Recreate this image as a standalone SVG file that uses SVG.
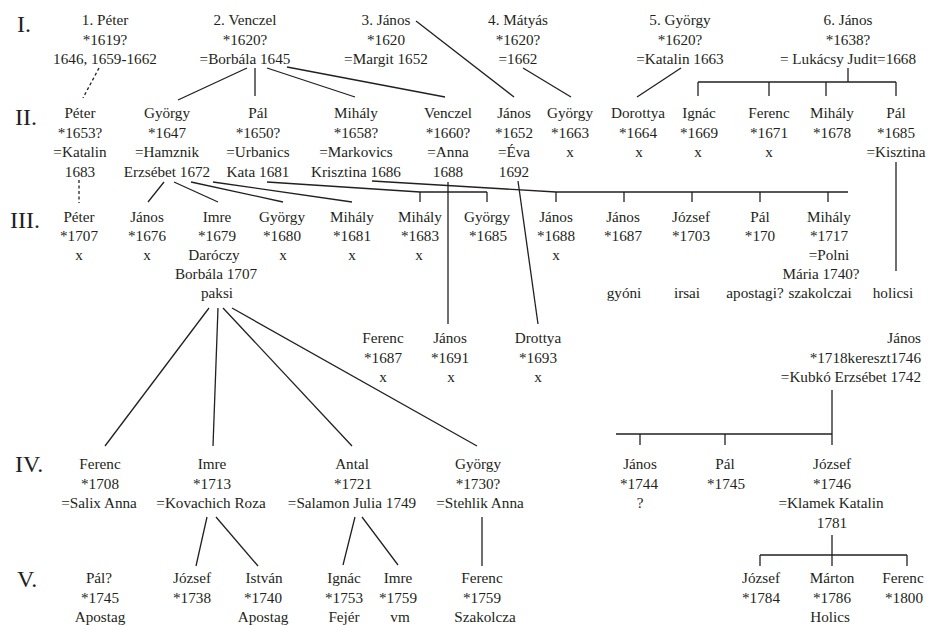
<svg xmlns="http://www.w3.org/2000/svg" width="929" height="625" viewBox="0 0 929 625">
<style>
text{font-family:"Liberation Serif","Times New Roman",serif;font-size:15.2px;fill:#231f20;text-anchor:middle}
text.lbl{font-size:24px;text-anchor:start}
text.r{text-anchor:end}
.c line,.c polyline{stroke:#231f20;stroke-width:1.3;fill:none}
.c .d{stroke-dasharray:3 2.5}
</style>
<rect width="929" height="625" fill="#fff"/>
<g id="labels">
<text class="lbl" x="17" y="32">I.</text>
<text class="lbl" x="15" y="125">II.</text>
<text class="lbl" x="10" y="228">III.</text>
<text class="lbl" x="15" y="472">IV.</text>
<text class="lbl" x="17" y="587">V.</text>
</g>
<g class="c" id="connectors">
<line class="d" x1="99" y1="68" x2="83" y2="98"/>
<line class="d" x1="79" y1="180" x2="79" y2="203"/>
<line x1="247" y1="68" x2="178" y2="100"/>
<line x1="255" y1="68" x2="255" y2="96"/>
<line x1="267" y1="68" x2="355" y2="97"/>
<line x1="287" y1="67" x2="445" y2="97"/>
<line x1="416" y1="21" x2="514" y2="97"/>
<line x1="523" y1="68" x2="571" y2="97"/>
<line x1="681" y1="68" x2="637" y2="97"/>
<line x1="848" y1="68" x2="848" y2="82"/>
<line x1="698" y1="82" x2="896" y2="82"/>
<line x1="698" y1="82" x2="698" y2="96"/>
<line x1="769" y1="82" x2="769" y2="96"/>
<line x1="826" y1="82" x2="826" y2="96"/>
<line x1="896" y1="82" x2="896" y2="96"/>
<line x1="896" y1="162" x2="896" y2="271"/>
<line x1="164" y1="182" x2="148" y2="202"/>
<line x1="174" y1="182" x2="218" y2="202"/>
<line x1="191" y1="182" x2="283" y2="202"/>
<line x1="213" y1="182" x2="352" y2="202"/>
<polyline points="267,182 420,192 487,192"/>
<line x1="420" y1="192" x2="420" y2="202"/>
<line x1="487" y1="192" x2="487" y2="202"/>
<polyline points="372,181 556,192 848,192"/>
<line x1="556" y1="192" x2="556" y2="202"/>
<line x1="624" y1="192" x2="624" y2="202"/>
<line x1="692" y1="192" x2="692" y2="202"/>
<line x1="760" y1="192" x2="760" y2="202"/>
<line x1="828" y1="192" x2="828" y2="202"/>
<line x1="448" y1="182" x2="448" y2="324"/>
<line x1="518" y1="181" x2="538" y2="324"/>
<line x1="209" y1="308" x2="105" y2="446"/>
<line x1="218" y1="308" x2="213" y2="446"/>
<line x1="223" y1="308" x2="352" y2="446"/>
<line x1="232" y1="308" x2="477" y2="446"/>
<line x1="832" y1="390" x2="832" y2="445"/>
<line x1="616" y1="434" x2="832" y2="434"/>
<line x1="640" y1="434" x2="640" y2="445"/>
<line x1="725" y1="434" x2="725" y2="445"/>
<line x1="207" y1="517" x2="196" y2="566"/>
<line x1="216" y1="517" x2="258" y2="566"/>
<line x1="355" y1="517" x2="343" y2="565"/>
<line x1="362" y1="517" x2="398" y2="565"/>
<line x1="482" y1="517" x2="482" y2="566"/>
<line x1="832" y1="535" x2="832" y2="566"/>
<line x1="760" y1="555" x2="907" y2="555"/>
<line x1="760" y1="555" x2="760" y2="566"/>
<line x1="907" y1="555" x2="907" y2="566"/>
</g>
<g id="n1-peter"><text x="105" y="25">1. Péter</text><text x="105" y="44.5">*1619?</text><text x="105" y="64">1646, 1659-1662</text></g>
<g id="n1-venczel"><text x="245" y="25">2. Venczel</text><text x="245" y="44.5">*1620?</text><text x="245" y="64">=Borbála 1645</text></g>
<g id="n1-janos"><text x="386" y="25">3. János</text><text x="386" y="44.5">*1620</text><text x="386" y="64">=Margit 1652</text></g>
<g id="n1-matyas"><text x="518" y="25">4. Mátyás</text><text x="518" y="44.5">*1620?</text><text x="518" y="64">=1662</text></g>
<g id="n1-gyorgy"><text x="680" y="25">5. György</text><text x="680" y="44.5">*1620?</text><text x="680" y="64">=Katalin 1663</text></g>
<g id="n1-janos6"><text x="848" y="25">6. János</text><text x="848" y="44.5">*1638?</text><text x="848" y="64">= Lukácsy Judit=1668</text></g>

<g id="n2-peter"><text x="80" y="118">Péter</text><text x="80" y="137.5">*1653?</text><text x="80" y="157">=Katalin</text><text x="80" y="176.5">1683</text></g>
<g id="n2-gyorgy"><text x="167" y="118">György</text><text x="167" y="137.5">*1647</text><text x="167" y="157">=Hamznik</text><text x="167" y="176.5">Erzsébet 1672</text></g>
<g id="n2-pal"><text x="258" y="118">Pál</text><text x="258" y="137.5">*1650?</text><text x="258" y="157">=Urbanics</text><text x="258" y="176.5">Kata 1681</text></g>
<g id="n2-mihaly"><text x="356" y="118">Mihály</text><text x="356" y="137.5">*1658?</text><text x="356" y="157">=Markovics</text><text x="356" y="176.5">Krisztina 1686</text></g>
<g id="n2-venczel"><text x="448" y="118">Venczel</text><text x="448" y="137.5">*1660?</text><text x="448" y="157">=Anna</text><text x="448" y="176.5">1688</text></g>
<g id="n2-janos"><text x="514" y="118">János</text><text x="514" y="137.5">*1652</text><text x="514" y="157">=Éva</text><text x="514" y="176.5">1692</text></g>
<g id="n2-gyorgy2"><text x="570" y="118">György</text><text x="570" y="137.5">*1663</text><text x="570" y="157">x</text></g>
<g id="n2-dorottya"><text x="638" y="118">Dorottya</text><text x="638" y="137.5">*1664</text><text x="639" y="157">x</text></g>
<g id="n2-ignac"><text x="699" y="118">Ignác</text><text x="699" y="137.5">*1669</text><text x="698" y="157">x</text></g>
<g id="n2-ferenc"><text x="769" y="118">Ferenc</text><text x="769" y="137.5">*1671</text><text x="769" y="157">x</text></g>
<g id="n2-mihaly2"><text x="832" y="118">Mihály</text><text x="832" y="137.5">*1678</text></g>
<g id="n2-pal2"><text x="896" y="118">Pál</text><text x="896" y="137.5">*1685</text><text x="896" y="157">=Kisztina</text></g>

<g id="n3-peter"><text x="79" y="221.5">Péter</text><text x="79" y="241">*1707</text><text x="79" y="260">x</text></g>
<g id="n3-janos"><text x="147" y="221.5">János</text><text x="147" y="241">*1676</text><text x="147" y="260">x</text></g>
<g id="n3-imre"><text x="217" y="221.5">Imre</text><text x="217" y="241">*1679</text><text x="214" y="260">Daróczy</text><text x="216" y="279">Borbála 1707</text><text x="217" y="298">paksi</text></g>
<g id="n3-gyorgy"><text x="282" y="221.5">György</text><text x="282" y="241">*1680</text><text x="283" y="260">x</text></g>
<g id="n3-mihaly"><text x="352" y="221.5">Mihály</text><text x="352" y="241">*1681</text><text x="352" y="260">x</text></g>
<g id="n3-mihaly2"><text x="420" y="221.5">Mihály</text><text x="420" y="241">*1683</text><text x="419" y="260">x</text></g>
<g id="n3-gyorgy2"><text x="487" y="221.5">György</text><text x="488" y="241">*1685</text></g>
<g id="n3-janos2"><text x="556" y="221.5">János</text><text x="556" y="241">*1688</text><text x="556" y="260">x</text></g>
<g id="n3-janos3"><text x="623" y="221.5">János</text><text x="623" y="241">*1687</text><text x="624" y="298">gyóni</text></g>
<g id="n3-jozsef"><text x="691" y="221.5">József</text><text x="691" y="241">*1703</text><text x="687" y="298">irsai</text></g>
<g id="n3-pal"><text x="760" y="221.5">Pál</text><text x="760" y="241">*170</text><text x="755" y="298">apostagi?</text></g>
<g id="n3-mihaly3"><text x="829" y="221.5">Mihály</text><text x="829" y="241">*1717</text><text x="829" y="260">=Polni</text><text x="821" y="279">Mária 1740?</text><text x="820" y="298">szakolczai</text></g>
<g id="n3-holicsi"><text x="893" y="298">holicsi</text></g>

<g id="n3b-ferenc"><text x="383" y="343">Ferenc</text><text x="383" y="362.5">*1687</text><text x="383" y="382">x</text></g>
<g id="n3b-janos"><text x="450" y="343">János</text><text x="450" y="362.5">*1691</text><text x="451" y="382">x</text></g>
<g id="n3b-drottya"><text x="538" y="343">Drottya</text><text x="538" y="362.5">*1693</text><text x="538" y="382">x</text></g>
<g id="n3b-janos1718"><text class="r" x="921" y="343">János</text><text class="r" x="921" y="362.5">*1718kereszt1746</text><text class="r" x="921" y="382">=Kubkó Erzsébet 1742</text></g>

<g id="n4-ferenc"><text x="100" y="469">Ferenc</text><text x="100" y="488.5">*1708</text><text x="99" y="508">=Salix Anna</text></g>
<g id="n4-imre"><text x="212" y="469">Imre</text><text x="212" y="488.5">*1713</text><text x="211" y="508">=Kovachich Roza</text></g>
<g id="n4-antal"><text x="352" y="469">Antal</text><text x="353" y="488.5">*1721</text><text x="352" y="508">=Salamon Julia 1749</text></g>
<g id="n4-gyorgy"><text x="478" y="469">György</text><text x="478" y="488.5">*1730?</text><text x="480" y="508">=Stehlik Anna</text></g>
<g id="n4-janos"><text x="640" y="469">János</text><text x="639" y="488.5">*1744</text><text x="640" y="508">?</text></g>
<g id="n4-pal"><text x="725" y="469">Pál</text><text x="726" y="488.5">*1745</text></g>
<g id="n4-jozsef"><text x="832" y="469">József</text><text x="832" y="488.5">*1746</text><text x="831" y="508">=Klamek Katalin</text><text x="832" y="527.5">1781</text></g>

<g id="n5-pal"><text x="99" y="583">Pál?</text><text x="100" y="602.5">*1745</text><text x="100" y="622">Apostag</text></g>
<g id="n5-jozsef"><text x="192" y="583">József</text><text x="192" y="602.5">*1738</text></g>
<g id="n5-istvan"><text x="264" y="583">István</text><text x="263" y="602.5">*1740</text><text x="263" y="622">Apostag</text></g>
<g id="n5-ignac"><text x="344" y="583">Ignác</text><text x="344" y="602.5">*1753</text><text x="344" y="622">Fejér</text></g>
<g id="n5-imre"><text x="398" y="583">Imre</text><text x="398" y="602.5">*1759</text><text x="400" y="622">vm</text></g>
<g id="n5-ferenc"><text x="482" y="583">Ferenc</text><text x="482" y="602.5">*1759</text><text x="485" y="622">Szakolcza</text></g>
<g id="n5-jozsef2"><text x="761" y="583">József</text><text x="761" y="602.5">*1784</text></g>
<g id="n5-marton"><text x="832" y="583">Márton</text><text x="832" y="602.5">*1786</text><text x="830" y="622">Holics</text></g>
<g id="n5-ferenc2"><text x="903" y="583">Ferenc</text><text x="904" y="602.5">*1800</text></g>
</svg>
